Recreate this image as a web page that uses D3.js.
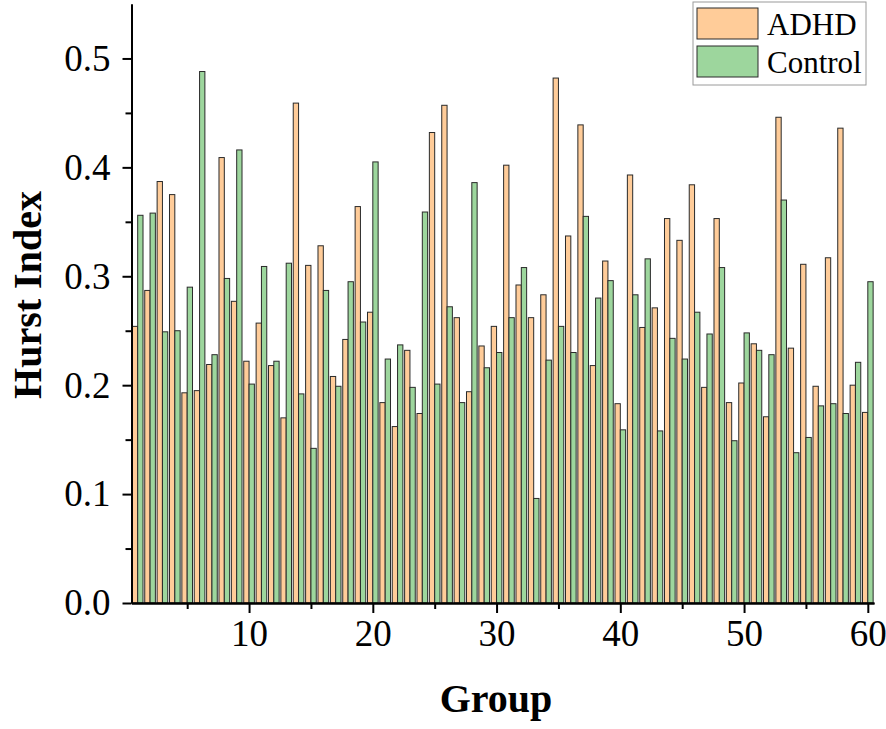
<!DOCTYPE html>
<html>
<head>
<meta charset="utf-8">
<script src="https://cdn.jsdelivr.net/npm/d3@7"></script>
<style>
  html, body { margin: 0; padding: 0; background: #fff; }
  svg { display: block; }
  text { font-family: "Liberation Serif", "Times New Roman", serif; fill: #000; }
</style>
</head>
<body>
<svg id="chart" width="886" height="729"></svg>
<script>
const groups = d3.range(1, 61);
const seriesNames = ["ADHD", "Control"];
const adhd = [
  0.254, 0.287, 0.387, 0.375, 0.193, 0.195, 0.219, 0.409, 0.277, 0.222,
  0.257, 0.218, 0.170, 0.459, 0.310, 0.328, 0.208, 0.242, 0.364, 0.267,
  0.184, 0.162, 0.232, 0.174, 0.432, 0.457, 0.262, 0.194, 0.236, 0.254,
  0.402, 0.292, 0.262, 0.283, 0.482, 0.337, 0.439, 0.218, 0.314, 0.183,
  0.393, 0.253, 0.271, 0.353, 0.333, 0.384, 0.198, 0.353, 0.184, 0.202,
  0.238, 0.171, 0.446, 0.234, 0.311, 0.199, 0.317, 0.436, 0.200, 0.175
];
const control = [
  0.356, 0.358, 0.249, 0.250, 0.290, 0.488, 0.228, 0.298, 0.416, 0.201,
  0.309, 0.222, 0.312, 0.192, 0.142, 0.287, 0.199, 0.295, 0.258, 0.405,
  0.224, 0.237, 0.198, 0.359, 0.201, 0.272, 0.184, 0.386, 0.216, 0.230,
  0.262, 0.308, 0.096, 0.223, 0.254, 0.230, 0.355, 0.280, 0.296, 0.159,
  0.283, 0.316, 0.158, 0.243, 0.224, 0.267, 0.247, 0.308, 0.149, 0.248,
  0.232, 0.228, 0.370, 0.138, 0.152, 0.181, 0.183, 0.174, 0.221, 0.295
];
const yMajorTicks = [0, 0.1, 0.2, 0.3, 0.4, 0.5];
const yMinorTicks = [0.05, 0.15, 0.25, 0.35, 0.45];
const xMajorTicks = [10, 20, 30, 40, 50, 60];
const xMinorTicks = [5, 15, 25, 35, 45, 55];
const colors = ["#FFCC99", "#9DD69D"];

const svg = d3.select("#chart");
const x = d3.scaleLinear().domain([0.5, 60.5]).range([131.5, 874]);
const y = d3.scaleLinear().domain([0, 0.55]).range([603, 4]);
const bw = 0.43; // bar width in group units

const data = groups.map((g, i) => ({ g, vals: [adhd[i], control[i]] }));

const bars = svg.append("g");
data.forEach(d => {
  d.vals.forEach((v, s) => {
    const x0 = s === 0 ? x(d.g - bw) : x(d.g);
    const x1 = s === 0 ? x(d.g) : x(d.g + bw);
    bars.append("rect")
      .attr("x", x0)
      .attr("y", y(v))
      .attr("width", x1 - x0)
      .attr("height", y(0) - y(v))
      .attr("fill", colors[s])
      .attr("stroke", "#2a2a2a")
      .attr("stroke-width", 1);
  });
});

function styleAxis(g) {
  g.selectAll("path").attr("stroke", "#000").attr("stroke-width", 2);
  g.selectAll("line").attr("stroke", "#000").attr("stroke-width", 2);
  g.selectAll("text").attr("font-family", "Liberation Serif, Times New Roman, serif").attr("font-size", 37).attr("fill", "#000");
}

// Y axis
const yMajor = svg.append("g").attr("transform", `translate(${x(0.5)},0)`)
  .call(d3.axisLeft(y).tickValues(yMajorTicks).tickFormat(d3.format(".1f")).tickSize(9).tickSizeOuter(0).tickPadding(12));
styleAxis(yMajor);
const yMinor = svg.append("g").attr("transform", `translate(${x(0.5)},0)`)
  .call(d3.axisLeft(y).tickValues(yMinorTicks).tickFormat("").tickSize(6).tickSizeOuter(0));
styleAxis(yMinor);

// X axis
const xMajor = svg.append("g").attr("transform", `translate(0,${y(0)})`)
  .call(d3.axisBottom(x).tickValues(xMajorTicks).tickFormat(d3.format("d")).tickSize(10).tickSizeOuter(0).tickPadding(7));
styleAxis(xMajor);
const xMinor = svg.append("g").attr("transform", `translate(0,${y(0)})`)
  .call(d3.axisBottom(x).tickValues(xMinorTicks).tickFormat("").tickSize(6).tickSizeOuter(0));
styleAxis(xMinor);

// Titles
svg.append("text")
  .attr("transform", `translate(41,295) rotate(-90)`)
  .attr("text-anchor", "middle")
  .attr("font-weight", "bold")
  .attr("font-size", 40)
  .text("Hurst Index");

svg.append("text")
  .attr("x", 496)
  .attr("y", 712)
  .attr("text-anchor", "middle")
  .attr("font-weight", "bold")
  .attr("font-size", 40)
  .text("Group");

// Legend
const legend = svg.append("g");
legend.append("rect")
  .attr("x", 693).attr("y", 2).attr("width", 173).attr("height", 83)
  .attr("fill", "#fff").attr("stroke", "#9a9a9a").attr("stroke-width", 1);
seriesNames.forEach((name, i) => {
  legend.append("rect")
    .attr("x", 697).attr("y", 8 + i * 38).attr("width", 61).attr("height", 31)
    .attr("fill", colors[i]).attr("stroke", "#2a2a2a").attr("stroke-width", 1);
  legend.append("text")
    .attr("x", 767).attr("y", 35 + i * 38)
    .attr("font-size", 31)
    .text(name);
});
</script>
</body>
</html>
